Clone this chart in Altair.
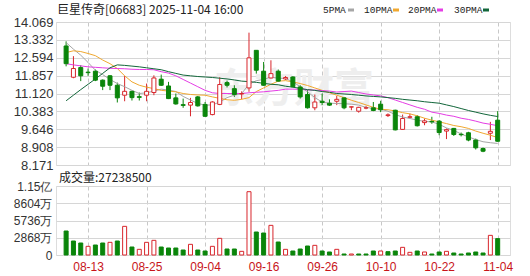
import altair as alt
import pandas as pd

dates = ["08-08","08-11","08-12","08-13","08-14","08-15","08-18","08-19","08-20","08-21",
         "08-22","08-25","08-26","08-27","08-28","08-29","09-01","09-02","09-03","09-04",
         "09-05","09-08","09-09","09-10","09-11","09-12","09-15","09-16","09-17","09-18",
         "09-19","09-22","09-23","09-24","09-25","09-26","09-29","09-30","10-02","10-03",
         "10-06","10-08","10-09","10-10","10-13","10-14","10-15","10-16","10-17","10-20",
         "10-21","10-22","10-23","10-24","10-27","10-28","10-30","10-31","11-03","11-04"]

opens = [13.08,11.79,12.19,12.00,12.04,11.67,11.85,11.46,11.05,11.21,
         10.99,11.05,11.16,11.71,11.43,10.94,10.66,10.64,10.98,10.67,
         10.25,10.67,11.57,11.32,11.10,11.35,12.90,12.04,11.76,12.04,
         11.72,11.80,11.39,11.08,10.53,10.80,10.72,10.80,10.94,10.56,
         10.39,10.52,10.53,10.68,10.21,10.43,9.64,10.14,10.16,9.92,
         9.97,9.98,9.57,9.68,9.44,9.50,9.20,8.85,9.48,10.02]
closes = [12.35,12.15,11.85,11.98,11.67,11.42,11.46,10.94,11.21,10.95,
          10.96,11.21,11.76,11.46,10.91,10.69,10.63,10.75,10.61,10.18,
          10.77,11.49,11.46,11.08,11.12,12.59,12.08,11.46,11.94,11.63,
          11.78,11.40,10.98,10.53,10.77,10.75,10.64,10.88,10.53,10.57,
          10.55,10.53,10.42,10.45,10.24,9.62,10.09,10.16,9.79,9.99,
          9.95,9.51,9.63,9.43,9.42,9.20,8.88,8.74,9.56,9.15]
highs = [13.27,12.66,12.29,12.15,12.11,11.70,11.88,11.57,11.85,11.23,
         11.16,11.53,11.87,11.90,11.60,11.12,10.91,10.94,11.02,10.77,
         10.80,11.79,11.65,11.46,11.21,13.63,12.90,12.42,12.49,12.11,
         11.84,11.83,11.46,11.26,11.08,11.12,10.88,11.02,10.98,10.58,
         10.57,10.61,10.77,10.82,10.30,10.45,10.25,10.29,10.23,10.09,
         10.16,10.02,9.68,9.70,9.51,9.54,9.26,8.89,9.95,10.39]
lows = [12.24,11.75,11.63,11.85,11.63,11.26,11.26,10.75,10.80,10.83,
        10.83,10.80,11.05,11.43,10.89,10.66,10.53,10.18,10.58,10.16,
        10.22,10.64,11.37,10.98,10.88,11.19,11.94,11.44,11.74,11.60,
        11.68,11.38,10.91,10.50,10.43,10.64,10.61,10.64,10.47,10.43,
        10.33,10.47,10.39,10.35,10.15,9.60,9.62,10.09,9.76,9.81,
        9.87,9.40,9.24,9.37,9.35,9.15,8.81,8.70,9.20,9.13]

# volume in 万 shares, and colour (1 = red, 0 = green)
volumes_wan = [3990,2327,1995,1440,1662,1995,2105,2327,4764,1330,
               942,2105,2438,1330,1163,1163,831,1773,831,665,
               1440,2770,997,997,609,10526,3823,3656,4930,2160,
               942,665,997,1496,1607,665,499,942,166,166,
               166,166,665,665,554,665,1274,443,665,499,
               166,499,609,332,166,332,499,332,3268,2724]
vol_red = [0,0,0,1,0,0,1,0,1,0,
           1,1,1,0,0,0,0,1,0,0,
           1,1,0,0,1,1,0,0,1,0,
           1,0,0,0,1,0,0,1,0,1,
           0,0,0,1,0,0,1,1,0,1,
           0,0,1,0,0,0,0,0,1,0]

ma5 = [13.22,12.95,12.70,12.40,12.08,11.90,11.70,11.53,11.40,11.25,
       11.12,11.15,11.22,11.30,11.26,11.20,11.00,10.85,10.71,10.64,
       10.65,10.77,10.95,11.05,11.12,11.50,11.65,11.70,11.80,11.75,
       11.74,11.60,11.40,11.19,10.95,10.77,10.72,10.71,10.70,10.68,
       10.64,10.55,10.50,10.47,10.39,10.25,10.15,10.09,10.02,9.97,
       9.95,9.85,9.70,9.60,9.45,9.33,9.22,9.13,9.09,9.06]
ma10 = [12.81,12.88,12.85,12.77,12.68,12.50,12.35,12.15,11.85,11.60,
        11.46,11.38,11.32,11.25,11.22,11.19,11.12,11.08,11.06,11.05,
        10.98,10.92,10.86,10.84,10.88,10.95,11.20,11.35,11.50,11.63,
        11.65,11.60,11.53,11.45,11.35,11.25,11.15,11.05,10.95,10.84,
        10.75,10.65,10.55,10.47,10.45,10.40,10.33,10.28,10.20,10.10,
        10.02,9.95,9.88,9.80,9.75,9.68,9.57,9.48,9.40,9.30]
ma20 = [12.35,12.30,12.26,12.22,12.20,12.18,12.16,12.15,12.14,12.12,
        12.11,12.11,12.10,12.02,11.96,11.85,11.70,11.55,11.40,11.25,
        11.15,11.12,11.12,11.12,11.12,11.15,11.17,11.19,11.22,11.25,
        11.30,11.30,11.29,11.27,11.26,11.24,11.22,11.18,11.20,11.22,
        11.16,11.10,11.06,11.02,10.95,10.85,10.75,10.65,10.55,10.47,
        10.35,10.30,10.23,10.18,10.10,10.05,9.98,9.90,9.85,9.79]
ma30 = [10.82,11.05,11.28,11.50,11.72,11.95,12.18,12.30,12.28,12.25,
        12.22,12.18,12.14,12.10,12.02,11.95,11.88,11.85,11.82,11.80,
        11.78,11.75,11.72,11.68,11.63,11.61,11.58,11.54,11.50,11.48,
        11.42,11.38,11.33,11.28,11.25,11.20,11.17,11.12,11.10,11.08,
        11.05,11.02,11.00,10.98,10.95,10.92,10.88,10.85,10.82,10.78,
        10.75,10.72,10.65,10.58,10.50,10.42,10.35,10.28,10.22,10.17]

price_ticks = [8.171, 8.908, 9.646, 10.383, 11.120, 11.857, 12.594, 13.332, 14.069]
vol_ticks = [0, 28680000, 57360000, 86040000, 114720000]
vol_tick_labels = ["0", "2868万", "5736万", "8604万", "1.15亿"]
date_ticks = [3, 11, 19, 27, 35, 43, 51, 59]

title_text = "巨星传奇[06683] 2025-11-04 16:00"
vol_title = "成交量:27238500"
ma_names = ["5PMA", "10PMA", "20PMA", "30PMA"]

RED = "#d8262c"
GREEN = "#0a850a"
MA_COLORS = ["#a6a6a6", "#f0a830", "#e53de5", "#12663a"]

n = len(dates)
df = pd.DataFrame({"idx": list(range(n)), "date": dates, "open": opens, "close": closes,
                   "high": highs, "low": lows,
                   "volume": [v * 10000 for v in volumes_wan],
                   "vdir": ["up" if r else "down" for r in vol_red]})
df["dir"] = ["up" if c > o else "down" for o, c in zip(opens, closes)]

W = 454
xscale = alt.Scale(domain=[-0.7, 60.0], nice=False, zero=False)
dir_color = alt.Scale(domain=["up", "down"], range=[RED, GREEN])
dir_fill = alt.Scale(domain=["up", "down"], range=["#ffffff", GREEN])

dates_js = "[" + ",".join("'%s'" % d for d in dates) + "]"

x_price_axis = alt.Axis(values=date_ticks, grid=True, gridDash=[4, 3], gridColor="#c8c8c8",
                        labels=False, ticks=False, domain=False, title=None)
y_price_axis = alt.Axis(values=price_ticks, format=".3f", grid=True, gridColor="#d6d6d6",
                        ticks=False, domain=False, labelPadding=3, labelFontSize=13,
                        labelFont="Liberation Sans", labelColor="#333333", title=None,
                        labelFlush=False, labelOverlap=False, labelBaseline="middle")
yscale = alt.Scale(domain=[8.171, 14.069], nice=False, zero=False)

X = alt.X("idx:Q", scale=xscale, axis=x_price_axis)

base = alt.Chart(df)

watermark = alt.Chart(pd.DataFrame({"t": ["东方财富"]})).mark_text(
    font="Noto Sans CJK SC", fontSize=40, fontWeight="bold", color="#eeeeee", align="center",
    baseline="middle").encode(text="t:N", x=alt.value(238), y=alt.value(68))

wick = base.mark_rule(strokeWidth=1).encode(
    x=X,
    y=alt.Y("low:Q", scale=yscale, axis=y_price_axis),
    y2="high:Q",
    color=alt.Color("dir:N", scale=dir_color, legend=None),
)
body = base.mark_bar(width=4, strokeWidth=1).encode(
    x=X,
    y=alt.Y("open:Q", scale=yscale, axis=y_price_axis),
    y2="close:Q",
    stroke=alt.Stroke("dir:N", scale=dir_color, legend=None),
    fill=alt.Fill("dir:N", scale=dir_fill, legend=None),
)

ma_layers = []
for name, vals, col in zip(ma_names, [ma5, ma10, ma20, ma30], MA_COLORS):
    mdf = pd.DataFrame({"idx": list(range(n)), "value": vals})
    ma_layers.append(alt.Chart(mdf).mark_line(strokeWidth=1, color=col).encode(
        x=X, y=alt.Y("value:Q", scale=yscale, axis=y_price_axis)))

title_mark = alt.Chart(pd.DataFrame({"t": [title_text]})).mark_text(
    font="Noto Sans CJK SC", fontSize=12, align="left", baseline="middle", color="#222222"
).encode(text="t:N", x=alt.value(1), y=alt.value(-12))

legend_layers = []
leg_x = [267, 308, 352, 398]
sw_x = [292, 337, 381, 427]
for name, col, lx, sx in zip(ma_names, MA_COLORS, leg_x, sw_x):
    legend_layers.append(
        alt.Chart(pd.DataFrame({"t": [name]})).mark_text(
            font="Liberation Mono", fontSize=9.5, align="left", baseline="middle", color="#222222"
        ).encode(text="t:N", x=alt.value(lx), y=alt.value(-12)))
    legend_layers.append(
        alt.Chart(pd.DataFrame({"t": [name]})).mark_rule(strokeWidth=3, color=col)
        .encode(x=alt.value(sx), x2=alt.value(sx + 6), y=alt.value(-12)))

price = alt.layer(watermark, wick, *ma_layers, body, title_mark, *legend_layers).properties(
    width=W, height=143)

x_vol_axis = alt.Axis(values=date_ticks, grid=True, gridDash=[4, 3], gridColor="#c8c8c8",
                      ticks=False, domain=False, title=None, labelExpr=dates_js + "[datum.value]",
                      labelColor="#c8141a", labelFontSize=12, labelFont="Liberation Sans",
                      labelPadding=6, labelFlush=False, labelOverlap=False)
vol_lab_js = "[" + ",".join("'%s'" % s for s in vol_tick_labels) + "][indexof([" + \
    ",".join(str(v) for v in vol_ticks) + "], datum.value)]"
y_vol_axis = alt.Axis(values=vol_ticks, grid=True, gridColor="#d6d6d6", ticks=False, domain=False,
                      labelExpr=vol_lab_js, labelPadding=4, labelFontSize=12,
                      labelFont="Liberation Sans", labelColor="#333333", title=None,
                      labelFlush=False, labelOverlap=False)
vscale = alt.Scale(domain=[0, 114720000], nice=False)

vbars = base.mark_bar(width=4, strokeWidth=1).encode(
    x=alt.X("idx:Q", scale=xscale, axis=x_vol_axis),
    y=alt.Y("volume:Q", scale=vscale, axis=y_vol_axis),
    stroke=alt.Stroke("vdir:N", scale=dir_color, legend=None),
    fill=alt.Fill("vdir:N", scale=dir_fill, legend=None),
)
vol_title_mark = alt.Chart(pd.DataFrame({"t": [vol_title]})).mark_text(
    font="Noto Sans CJK SC", fontSize=12, align="left", baseline="middle", color="#222222"
).encode(text="t:N", x=alt.value(3), y=alt.value(-8))

volume = alt.layer(vbars, vol_title_mark).properties(width=W, height=69)

chart = alt.vconcat(price, volume, spacing=21, bounds="flush").properties(
    padding={"left": 12, "top": 3, "right": 14, "bottom": 3}
).configure_view(stroke="#9a9a9a", strokeWidth=1).configure(background="white")

chart.save("out.html", embed_options={"renderer": "svg", "actions": False})
